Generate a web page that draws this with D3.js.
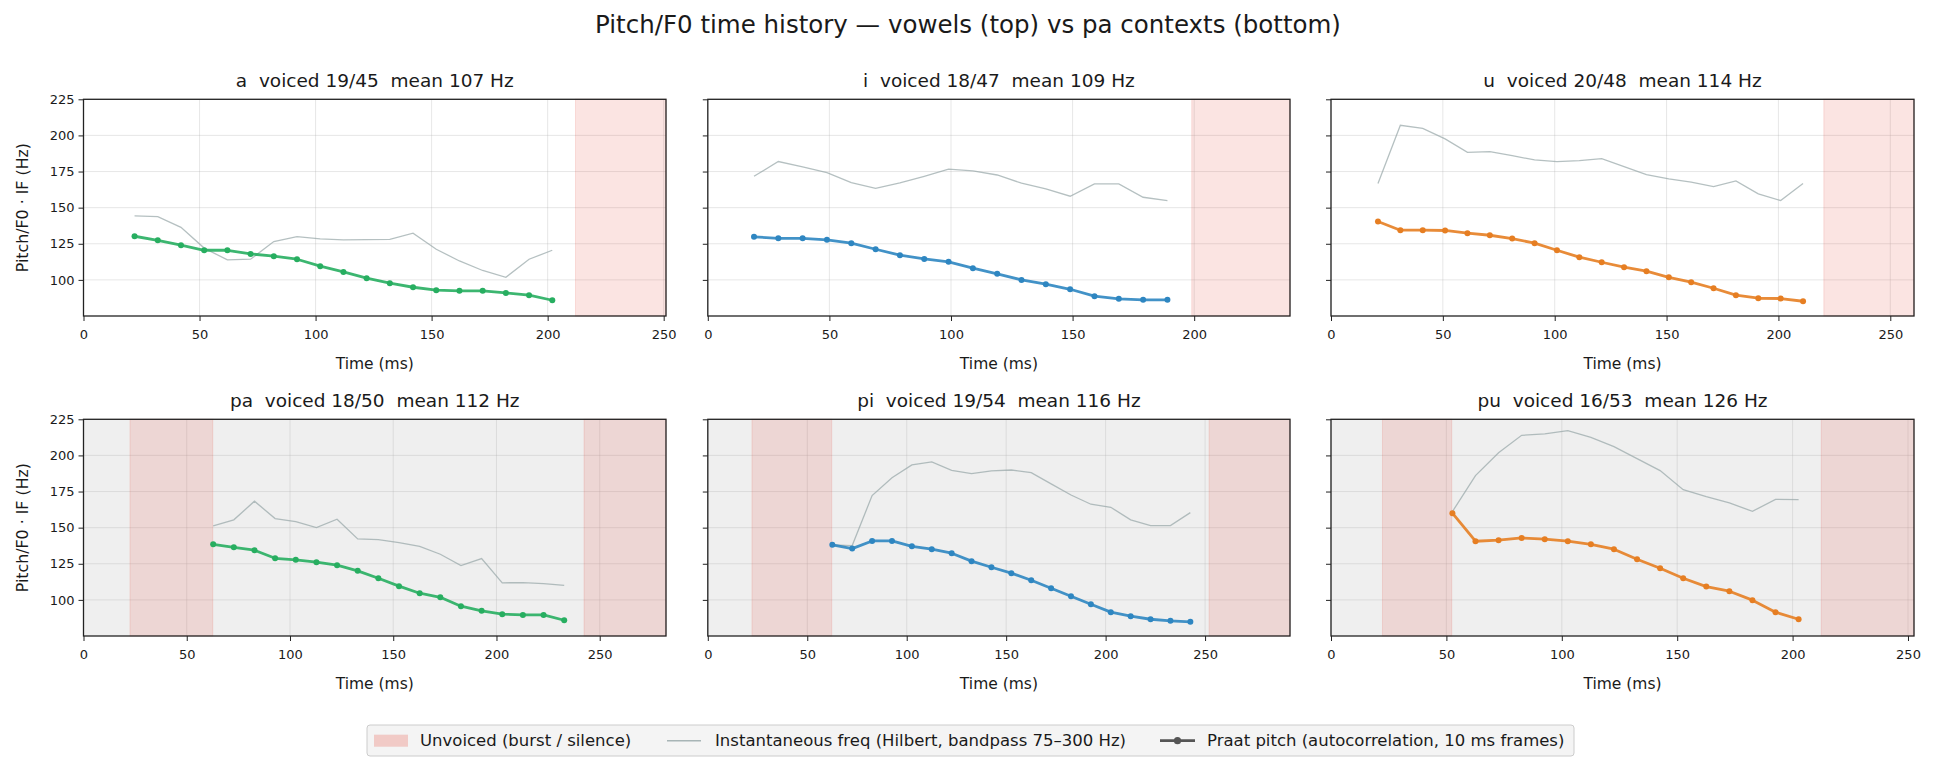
<!DOCTYPE html>
<html><head><meta charset="utf-8">
<script src="https://cdn.jsdelivr.net/npm/d3@7"></script>
<style>
html,body{margin:0;padding:0;background:#fff;}
svg text{font-family:"DejaVu Sans",sans-serif;fill:#1a1a1a;white-space:pre;}
</style></head>
<body><svg id="chart" width="1936" height="771"></svg>
<script>
// ---- data ----
const panelNames = ["a","i","u","pa","pi","pu"];
const panelTitles = ["a  voiced 19/45  mean 107 Hz","i  voiced 18/47  mean 109 Hz","u  voiced 20/48  mean 114 Hz",
                     "pa  voiced 18/50  mean 112 Hz","pi  voiced 19/54  mean 116 Hz","pu  voiced 16/53  mean 126 Hz"];
const xMaxMs = [251, 239.4, 260.6, 282.1, 292.7, 252.6];
const yTicks = [100,125,150,175,200,225];

const tA = [22,32,42,52,62,72,82,92,102,112,122,132,142,152,162,172,182,192,202];
const f0A = [130.2,127.4,124.0,120.5,120.5,118.0,116.4,114.3,109.5,105.5,101.2,97.7,94.9,92.9,92.4,92.4,91.0,89.4,85.9];
const ifA = [144.3,143.8,136.4,122.0,113.8,114.3,126.5,130.0,128.4,127.7,127.9,128.0,132.3,121.2,113.1,106.5,101.8,114.3,120.5];
const unvA = [[212,251]];

const tI = [19,29,39,49,59,69,79,89,99,109,119,129,139,149,159,169,179,189];
const f0I = [129.8,128.8,128.8,127.7,125.4,121.2,117.1,114.5,112.5,108.1,104.2,100.0,97.0,93.5,88.7,86.9,86.2,86.2];
const ifI = [171.7,181.9,178.2,174.3,167.3,163.4,167.1,171.7,176.6,175.4,172.6,166.9,163.0,157.9,166.4,166.4,157.2,154.9];
const unvI = [[199,239.4]];

const tU = [21,31,41,51,61,71,81,91,101,111,121,131,141,151,161,171,181,191,201,211];
const f0U = [140.4,134.4,134.4,134.2,132.3,130.9,128.6,125.4,120.5,115.7,112.2,108.8,106.0,101.8,98.4,94.2,89.4,87.3,87.1,85.2];
const ifU = [166.7,207.0,204.9,197.6,188.3,188.8,186.0,183.0,181.9,182.6,183.9,178.4,172.9,169.9,167.6,164.6,168.5,159.5,154.9,166.7];
const unvU = [[220.3,260.6]];

const tPA = [62.8,72.8,82.8,92.8,102.8,112.8,122.8,132.8,142.8,152.8,162.8,172.8,182.8,192.8,202.8,212.8,222.8,232.8];
const f0PA = [138.5,136.4,134.4,128.8,127.7,126.1,124.0,120.1,115.0,109.5,104.6,101.8,95.6,92.4,90.1,89.6,89.6,85.9];
const ifPA = [151.2,155.4,168.3,156.3,154.2,150.0,155.8,142.2,141.7,139.7,137.1,131.6,123.8,128.6,111.8,112.0,111.3,110.1];
const unvPA = [[22.5,62.6],[242.4,282.1]];

const tPI = [62.6,72.6,82.6,92.6,102.6,112.6,122.6,132.6,142.6,152.6,162.6,172.6,182.6,192.6,202.6,212.6,222.6,232.6,242.6];
const f0PI = [138.1,135.5,140.8,140.8,137.1,135.1,132.3,126.8,122.6,118.5,113.6,108.1,102.5,97.0,91.5,88.7,86.6,85.5,84.8];
const ifPI = [138.0,137.6,172.2,184.6,193.4,195.5,189.7,187.4,189.3,189.9,188.1,180.3,172.6,166.2,164.1,155.4,151.4,151.4,160.4];
const unvPI = [[22.2,62.3],[252,292.7]];

const tPU = [52.6,62.6,72.6,82.6,92.6,102.6,112.6,122.6,132.6,142.6,152.6,162.6,172.6,182.6,192.6,202.6];
const f0PU = [160.0,140.6,141.3,142.9,142.0,140.6,138.5,135.1,128.1,121.9,115.0,109.2,106.0,99.8,91.5,86.6];
const ifPU = [161.1,186.0,201.9,213.9,214.9,217.2,212.5,206.1,197.8,189.5,176.3,171.5,167.1,161.3,169.6,169.4];
const unvPU = [[22.3,52.3],[212.4,252.6]];

const legendLabels = ["Unvoiced (burst / silence)","Instantaneous freq (Hilbert, bandpass 75\u2013300 Hz)","Praat pitch (autocorrelation, 10 ms frames)"];

// ---- build ----
const times = [tA,tI,tU,tPA,tPI,tPU];
const f0s = [f0A,f0I,f0U,f0PA,f0PI,f0PU];
const ifs = [ifA,ifI,ifU,ifPA,ifPI,ifPU];
const unvs = [unvA,unvI,unvU,unvPA,unvPI,unvPU];
const colors = ["#27ae60","#2e86c1","#e67e22","#27ae60","#2e86c1","#e67e22"];

const svg = d3.select("#chart");
const colX = [[83.5,666],[707.8,1290],[1331,1914]];
const rowY = [[99.3,316],[419.3,636]];

svg.append("text").attr("x",968).attr("y",33).attr("text-anchor","middle")
  .style("font-size","24.5px").text("Pitch/F0 time history \u2014 vowels (top) vs pa contexts (bottom)");

panelNames.forEach((nm,k)=>{
  const r = Math.floor(k/3), c = k%3;
  const [x0,x1] = colX[c], [y0,y1] = rowY[r];
  const x = d3.scaleLinear().domain([0,xMaxMs[k]]).range([x0,x1]);
  const y = d3.scaleLinear().domain([75,225]).range([y1,y0]);
  const g = svg.append("g");
  // background
  g.append("rect").attr("x",x0).attr("y",y0).attr("width",x1-x0).attr("height",y1-y0)
    .attr("fill", r===1 ? "#efefef" : "#ffffff");
  // grid
  const xt = d3.range(0, xMaxMs[k]+0.01, 50);
  g.selectAll(".gx").data(xt).join("line").attr("x1",d=>x(d)).attr("x2",d=>x(d)).attr("y1",y0).attr("y2",y1)
    .attr("stroke","#b0b0b0").attr("stroke-opacity",0.3).attr("stroke-width",1);
  g.selectAll(".gy").data(yTicks).join("line").attr("x1",x0).attr("x2",x1).attr("y1",d=>y(d)).attr("y2",d=>y(d))
    .attr("stroke","#b0b0b0").attr("stroke-opacity",0.3).attr("stroke-width",1);
  // unvoiced spans
  g.selectAll(".sp").data(unvs[k]).join("rect")
    .attr("x",d=>x(d[0])).attr("width",d=>x(d[1])-x(d[0])).attr("y",y0).attr("height",y1-y0)
    .attr("fill","#e74c3c").attr("fill-opacity",0.15)
    .attr("stroke","#e74c3c").attr("stroke-opacity",0.15).attr("stroke-width",1);
  // IF line
  const pts = times[k].map((t,i)=>[t,ifs[k][i]]);
  g.append("path").attr("d", d3.line().x(d=>x(d[0])).y(d=>y(d[1]))(pts))
    .attr("fill","none").attr("stroke","#95a5a6").attr("stroke-opacity",0.7).attr("stroke-width",1.3);
  // Praat line
  const pp = times[k].map((t,i)=>[t,f0s[k][i]]);
  g.append("path").attr("d", d3.line().x(d=>x(d[0])).y(d=>y(d[1]))(pp))
    .attr("fill","none").attr("stroke",colors[k]).attr("stroke-opacity",0.9).attr("stroke-width",2.8).attr("stroke-linejoin","round");
  g.selectAll(".pt").data(pp).join("circle").attr("cx",d=>x(d[0])).attr("cy",d=>y(d[1])).attr("r",3)
    .attr("fill",colors[k]);
  // axes
  const ax = g.append("g").attr("transform",`translate(0,${y1})`)
    .call(d3.axisBottom(x).tickValues(xt).tickFormat(d3.format("d")).tickSize(5).tickPadding(9));
  const ay = g.append("g").attr("transform",`translate(${x0},0)`)
    .call(d3.axisLeft(y).tickValues(yTicks).tickFormat(c===0?d3.format("d"):()=> "").tickSize(5).tickPadding(4));
  [ax,ay].forEach(a=>{
    a.select(".domain").remove();
    a.selectAll(".tick line").attr("stroke","#222").attr("stroke-width",1);
    a.selectAll(".tick text").style("font-size","13px").style("font-family","DejaVu Sans").attr("fill","#1a1a1a");
  });
  // frame
  g.append("rect").attr("x",x0).attr("y",y0).attr("width",x1-x0).attr("height",y1-y0)
    .attr("fill","none").attr("stroke","#222").attr("stroke-width",1.3);
  // titles
  g.append("text").attr("x",(x0+x1)/2).attr("y",y0-12.5).attr("text-anchor","middle")
    .style("font-size","18.5px").text(panelTitles[k]);
  g.append("text").attr("x",(x0+x1)/2).attr("y",y1+52.5).attr("text-anchor","middle")
    .style("font-size","15.5px").text("Time (ms)");
  if(c===0){
    g.append("text").attr("transform",`translate(${28},${(y0+y1)/2}) rotate(-90)`).attr("text-anchor","middle")
      .style("font-size","15.8px").text("Pitch/F0 \u00b7 IF (Hz)");
  }
});

// legend
const lg = svg.append("g");
lg.append("rect").attr("x",367).attr("y",725).attr("width",1207).attr("height",31).attr("rx",3)
  .attr("fill","#f4f4f4").attr("stroke","#cccccc").attr("stroke-width",1);
const ly = 740.7;
lg.append("rect").attr("x",374).attr("y",ly-6).attr("width",34).attr("height",12)
  .attr("fill","#e74c3c").attr("fill-opacity",0.25);
lg.append("text").attr("x",420).attr("y",ly).attr("dy","0.35em").style("font-size","16.5px").text(legendLabels[0]);
lg.append("line").attr("x1",667).attr("x2",701).attr("y1",ly).attr("y2",ly).attr("stroke","#95a5a6").attr("stroke-opacity",0.8).attr("stroke-width",1.5);
lg.append("text").attr("x",715).attr("y",ly).attr("dy","0.35em").style("font-size","16.5px").text(legendLabels[1]);
lg.append("line").attr("x1",1160).attr("x2",1195).attr("y1",ly).attr("y2",ly).attr("stroke","#555").attr("stroke-width",2.8);
lg.append("circle").attr("cx",1177.5).attr("cy",ly).attr("r",3.6).attr("fill","#555");
lg.append("text").attr("x",1207).attr("y",ly).attr("dy","0.35em").style("font-size","16.5px").text(legendLabels[2]);
</script></body></html>
